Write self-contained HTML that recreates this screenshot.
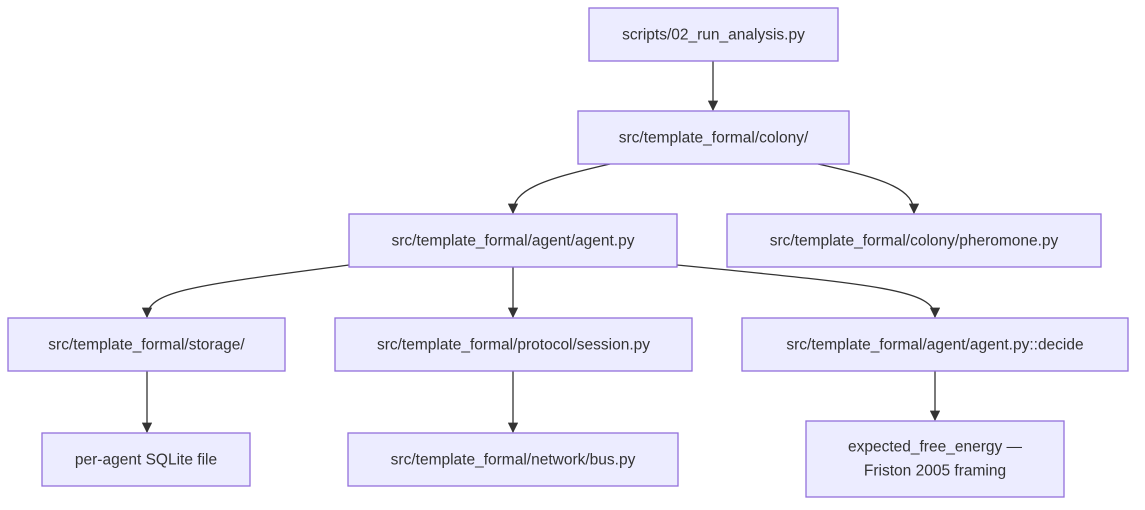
<!DOCTYPE html>
<html><head><style>
html,body{margin:0;padding:0;background:#fff;}
svg{display:block;}
text{font-family:"Liberation Sans",sans-serif;font-size:15.5px;fill:#333;text-anchor:middle;dominant-baseline:central;}
rect{fill:#ECECFF;stroke:#9370DB;stroke-width:1.3;}
path{fill:none;stroke:#333;stroke-width:1.3;}
</style></head><body>
<svg width="1145" height="510" viewBox="0 0 1145 510">
<defs><marker id="a" viewBox="0 0 10 10" refX="9" refY="5" markerWidth="8" markerHeight="8" orient="auto"><path d="M0,0L10,5L0,10z" style="fill:#333;stroke:none"/></marker></defs>
<path d="M713,61V110" marker-end="url(#a)"/>
<path d="M610,164C540,180 513,190 513,213" marker-end="url(#a)"/>
<path d="M818,164C890,180 914,190 914,213" marker-end="url(#a)"/>
<path d="M349,265C200,285 147,290 147,317" marker-end="url(#a)"/>
<path d="M513,267V317" marker-end="url(#a)"/>
<path d="M677,265C880,285 935,290 935,317" marker-end="url(#a)"/>
<path d="M147,371V432" marker-end="url(#a)"/>
<path d="M513,371V432" marker-end="url(#a)"/>
<path d="M935,371V420" marker-end="url(#a)"/>
<rect x="589" y="8" width="249" height="53"/><text x="713.5" y="35">scripts/02_run_analysis.py</text>
<rect x="578" y="111" width="271" height="53"/><text x="713.5" y="138">src/template_formal/colony/</text>
<rect x="349" y="214" width="328" height="53"/><text x="513" y="241">src/template_formal/agent/agent.py</text>
<rect x="727" y="214" width="374" height="53"/><text x="914" y="241">src/template_formal/colony/pheromone.py</text>
<rect x="8" y="318" width="277" height="53"/><text x="146.5" y="345">src/template_formal/storage/</text>
<rect x="335" y="318" width="357" height="53"/><text x="513.5" y="345">src/template_formal/protocol/session.py</text>
<rect x="742" y="318" width="386" height="53"/><text x="935" y="345">src/template_formal/agent/agent.py::decide</text>
<rect x="42" y="433" width="208" height="53"/><text x="146" y="460">per-agent SQLite file</text>
<rect x="348" y="433" width="330" height="53"/><text x="513" y="460">src/template_formal/network/bus.py</text>
<rect x="806" y="421" width="258" height="76"/><text x="935" y="447">expected_free_energy —</text><text x="935" y="471">Friston 2005 framing</text>
</svg>
</body></html>
